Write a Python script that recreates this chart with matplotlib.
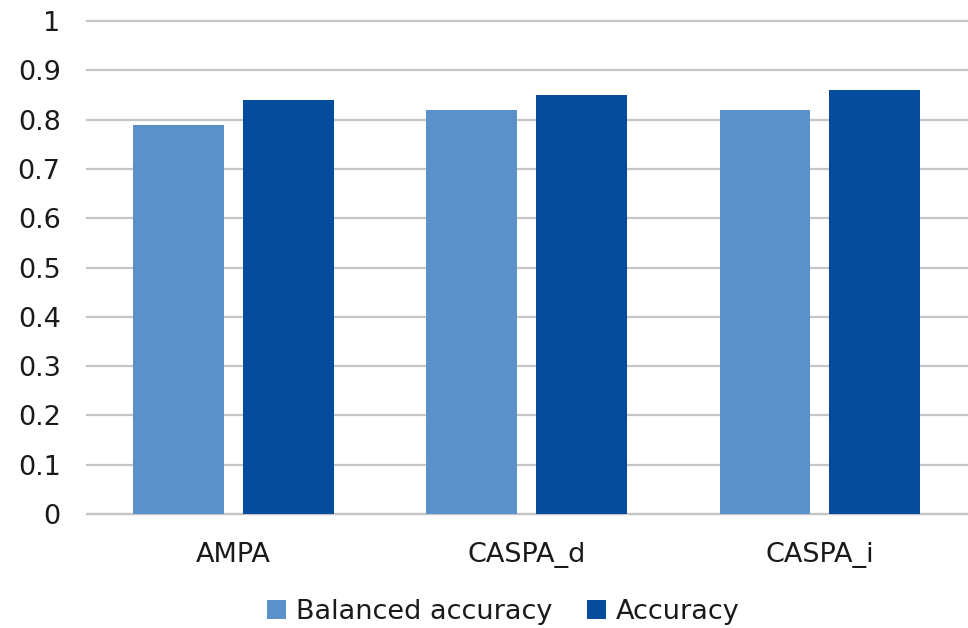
import numpy as np
import matplotlib
matplotlib.use("Agg")
import matplotlib.pyplot as plt

categories = ["AMPA", "CASPA_d", "CASPA_i"]
balanced_accuracy = [0.79, 0.82, 0.82]
accuracy = [0.84, 0.85, 0.86]
y_ticks = [0, 0.1, 0.2, 0.3, 0.4, 0.5, 0.6, 0.7, 0.8, 0.9, 1]
y_tick_labels = ["0", "0.1", "0.2", "0.3", "0.4", "0.5", "0.6", "0.7", "0.8", "0.9", "1"]

light = "#5C90CB"
dark = "#064C9C"

plt.rcParams["font.family"] = ["DejaVu Sans"]

fig = plt.figure(figsize=(9.68, 6.28), dpi=100)
ax = fig.add_axes([0.0899, 0.1815, 0.9086, 0.785])

x = np.arange(len(categories))
width = 0.31
offset = (width + 0.065) / 2
ax.bar(x - offset, balanced_accuracy, width, color=light, label="Balanced accuracy", zorder=3)
ax.bar(x + offset, accuracy, width, color=dark, label="Accuracy", zorder=3)

ax.set_xlim(-0.5, len(categories) - 0.5)
ax.set_ylim(0, 1)
ax.set_yticks(y_ticks)
ax.set_yticklabels(y_tick_labels)
ax.set_xticks(x)
ax.set_xticklabels(categories)
ax.tick_params(axis="both", length=0, labelsize=19.5, colors="#1a1a1a")
ax.tick_params(axis="y", pad=19)
ax.tick_params(axis="x", pad=20)

ax.grid(axis="y", color="#c6c6c6", linewidth=1.6, zorder=0)
# keep the top gridline at full thickness
for line in ax.get_ygridlines():
    line.set_clip_on(False)
for side in ["top", "right", "left"]:
    ax.spines[side].set_visible(False)
ax.spines["bottom"].set_color("#c6c6c6")
ax.spines["bottom"].set_linewidth(1.6)

fig.legend(loc="lower center", bbox_to_anchor=(0.52, -0.034), ncol=2, frameon=False,
           fontsize=19.5, handlelength=0.7, handleheight=0.7, handletextpad=0.35,
           columnspacing=1.3, labelcolor="#1a1a1a")

fig.savefig("out.png", dpi=100)
